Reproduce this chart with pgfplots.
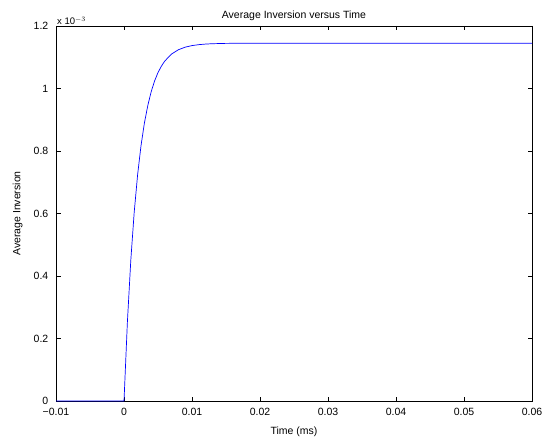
\documentclass[border=0pt]{standalone}
\usepackage{fontspec}
\setmainfont{Liberation Sans}
\usepackage{pgfplots}
\pgfplotsset{compat=1.18}
\begin{document}
\fontsize{10.5bp}{12bp}\selectfont
\begin{tikzpicture}
\begin{axis}[
  scale only axis,
  width=476bp, height=375bp,
  xmin=-0.01, xmax=0.06, ymin=0, ymax=1.2e-3,
  xtick={-0.01,0,0.01,0.02,0.03,0.04,0.05,0.06},
  xticklabels={−0.01,0,0.01,0.02,0.03,0.04,0.05,0.06},
  ytick={0,0.2e-3,0.4e-3,0.6e-3,0.8e-3,1e-3,1.2e-3},
  yticklabels={0,0.2,0.4,0.6,0.8,1,1.2},
  scaled y ticks=false, scaled x ticks=false,
  tick align=inside, major tick length=4.5bp,
  axis line style={line width=0.7bp},
  every tick/.style={black, line width=0.6bp},
  tick label style={font=\fontsize{10.5bp}{12bp}\selectfont},
  xticklabel style={yshift=-3bp},
  yticklabel style={xshift=-4bp},
  title={Average Inversion versus Time},
  title style={font=\fontsize{10.5bp}{12bp}\selectfont, yshift=-4bp},
  xlabel={Time (ms)},
  ylabel={Average Inversion},
  label style={font=\fontsize{10.5bp}{12bp}\selectfont},
  xlabel style={yshift=-5bp},
  ylabel style={yshift=4bp},
  clip mode=individual,
]
\addplot[color={rgb,1:red,0;green,0;blue,1}, line width=0.7bp] coordinates {
(-0.01,0) (0,0) (0.0005,0.2533e-3) (0.001,0.4505e-3) (0.0015,0.6041e-3)
(0.002,0.7238e-3) (0.0025,0.8169e-3) (0.003,0.8895e-3) (0.0035,0.9455e-3)
(0.004,0.9900e-3) (0.0045,1.0243e-3) (0.005,1.0510e-3) (0.0055,1.0715e-3)
(0.006,1.0880e-3) (0.007,1.1104e-3) (0.008,1.1240e-3) (0.009,1.1323e-3)
(0.010,1.1373e-3) (0.011,1.1403e-3) (0.012,1.1422e-3) (0.013,1.1433e-3)
(0.015,1.1444e-3) (0.018,1.1449e-3) (0.02,1.1450e-3) (0.03,1.1450e-3)
(0.06,1.1450e-3)
};
\node[anchor=south west, inner sep=1bp, font=\fontsize{9.5bp}{10bp}\selectfont] at (rel axis cs:0,1) {x 10$^{-3}$};
\end{axis}
\pgfresetboundingbox
\path[use as bounding box] ([shift={(-56bp,-35bp)}]current axis.south west) rectangle ([shift={(19bp,26bp)}]current axis.north east);
\end{tikzpicture}
\end{document}
